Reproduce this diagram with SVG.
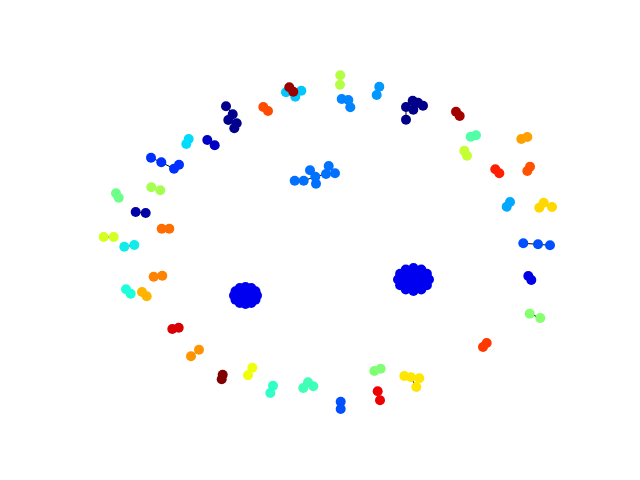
<svg xmlns="http://www.w3.org/2000/svg" width="640" height="480" viewBox="0 0 640 480">
<style>
.e{stroke:#000;stroke-width:1;fill:none}
circle{stroke:none}
</style>
<rect width="640" height="480" fill="#fff"/>
<g id="edges">
<path class="e" d="M226,106.3L232.7,114.3L228.3,120L236.7,123.3L234.3,128.3"/>
<path class="e" d="M151,157.7L161.3,162.3L174,168.7L179,164.7"/>
<path class="e" d="M294.7,180.7L303.7,180.7L315.3,176.7L310,170.3M315.3,176.7L316,183.7M315.3,176.7L326,174L328.7,166M326,174L335,173.3"/>
<path class="e" d="M341.7,99L348.3,100L350.3,107.3"/>
<path class="e" d="M406,107L412.7,100.7L418,102.7L423,105.7M406,107L413.3,109.7M406,107L406,119.7"/>
<path class="e" d="M543.7,202.7L539.3,207.7M543.7,202.7L552,207"/>
<path class="e" d="M523.3,243.3L538,244.3L550,245.3"/>
<path class="e" d="M404.3,376L411,377.3L419.3,378.3M411,377.3L416.3,387"/>
<path class="e" d="M303.3,388L308,382.3L313.3,386.3"/>
<path class="e" d="M286,92.3L295.3,96.7L301.3,90.7"/>
<path class="e" d="M529.7,313.7L540.3,318M103.7,237L113.7,237M124.3,246.7L134.3,245M191,356.3L199,349.7M135.7,212L145.7,213"/>
<path class="e" d="M241,296L243,297M250,297L252,298M408,281L410,281M418,280L418,283"/>
</g>
<g id="blob-left" fill="#0000f0">
<circle id="bl0" cx="257" cy="295.5" r="5"/><circle id="bl1" cx="255.5" cy="299.8" r="5"/><circle id="bl2" cx="251.3" cy="302.9" r="5"/><circle id="bl3" cx="245.5" cy="304" r="5"/><circle id="bl4" cx="239.8" cy="302.9" r="5"/><circle id="bl5" cx="235.5" cy="299.8" r="5"/><circle id="bl6" cx="234" cy="295.5" r="5"/><circle id="bl7" cx="235.5" cy="291.3" r="5"/><circle id="bl8" cx="239.8" cy="288.1" r="5"/><circle id="bl9" cx="245.5" cy="287" r="5"/><circle id="bl10" cx="251.3" cy="288.1" r="5"/><circle id="bl11" cx="255.5" cy="291.3" r="5"/>
<circle id="bl12" cx="251" cy="295.5" r="5"/><circle id="bl13" cx="248.3" cy="299" r="5"/><circle id="bl14" cx="242.8" cy="299" r="5"/><circle id="bl15" cx="240" cy="295.5" r="5"/><circle id="bl16" cx="242.8" cy="292" r="5"/><circle id="bl17" cx="248.3" cy="292" r="5"/><circle id="bl18" cx="245.5" cy="295.5" r="5"/>
</g>
<g id="blob-right" fill="#0000f0">
<circle id="br0" cx="429" cy="279.5" r="5"/><circle id="br1" cx="426.9" cy="285.3" r="5"/><circle id="br2" cx="421.3" cy="289.5" r="5"/><circle id="br3" cx="413.5" cy="291" r="5"/><circle id="br4" cx="405.8" cy="289.5" r="5"/><circle id="br5" cx="400.1" cy="285.3" r="5"/><circle id="br6" cx="398" cy="279.5" r="5"/><circle id="br7" cx="400.1" cy="273.8" r="5"/><circle id="br8" cx="405.8" cy="269.5" r="5"/><circle id="br9" cx="413.5" cy="268" r="5"/><circle id="br10" cx="421.3" cy="269.5" r="5"/><circle id="br11" cx="426.9" cy="273.8" r="5"/>
<circle id="br12" cx="421.5" cy="279.5" r="5"/><circle id="br13" cx="417.5" cy="284.7" r="5"/><circle id="br14" cx="409.5" cy="284.7" r="5"/><circle id="br15" cx="405.5" cy="279.5" r="5"/><circle id="br16" cx="409.5" cy="274.3" r="5"/><circle id="br17" cx="417.5" cy="274.3" r="5"/><circle id="br18" cx="413.5" cy="279.5" r="5"/>
</g>
<g id="c1" fill="#00c8ff"><circle id="n1a" cx="286" cy="92.3" r="5"/><circle id="n1b" cx="295.3" cy="96.7" r="5"/><circle id="n1c" cx="301.3" cy="90.7" r="5"/></g>
<g id="c2" fill="#9a0000"><circle id="n2a" cx="289.3" cy="87.3" r="5"/><circle id="n2b" cx="293.3" cy="91.7" r="5"/></g>
<g id="c3" fill="#ff4a00"><circle id="n3a" cx="263.3" cy="107" r="5"/><circle id="n3b" cx="268" cy="111" r="5"/></g>
<g id="c4" fill="#00008c"><circle id="n4a" cx="226" cy="106.3" r="5"/><circle id="n4b" cx="232.7" cy="114.3" r="5"/><circle id="n4c" cx="228.3" cy="120" r="5"/><circle id="n4d" cx="236.7" cy="123.3" r="5"/><circle id="n4e" cx="234.3" cy="128.3" r="5"/></g>
<g id="c5" fill="#00dcfe"><circle id="n5a" cx="188.7" cy="139" r="5"/><circle id="n5b" cx="186.3" cy="144" r="5"/></g>
<g id="c6" fill="#0000c4"><circle id="n6a" cx="207.3" cy="140" r="5"/><circle id="n6b" cx="214.7" cy="145.3" r="5"/></g>
<g id="c7" fill="#0030ff"><circle id="n7a" cx="151" cy="157.7" r="5"/><circle id="n7b" cx="161.3" cy="162.3" r="5"/><circle id="n7c" cx="174" cy="168.7" r="5"/><circle id="n7d" cx="179" cy="164.7" r="5"/></g>
<g id="c8" fill="#6cff8a"><circle id="n8a" cx="116" cy="193.3" r="5"/><circle id="n8b" cx="118.7" cy="197.7" r="5"/></g>
<g id="c9" fill="#a6ff50"><circle id="n9a" cx="151.3" cy="187.3" r="5"/><circle id="n9b" cx="160.3" cy="190.3" r="5"/></g>
<g id="c10" fill="#0000a4"><circle id="n10a" cx="135.7" cy="212" r="5"/><circle id="n10b" cx="145.7" cy="213" r="5"/></g>
<g id="c11" fill="#ff6c00"><circle id="n11a" cx="161.7" cy="228.7" r="5"/><circle id="n11b" cx="169.3" cy="228.7" r="5"/></g>
<g id="c12" fill="#d4ff22"><circle id="n12a" cx="103.7" cy="237" r="5"/><circle id="n12b" cx="113.7" cy="237" r="5"/></g>
<g id="c13" fill="#10ecea"><circle id="n13a" cx="124.3" cy="246.7" r="5"/><circle id="n13b" cx="134.3" cy="245" r="5"/></g>
<g id="c14" fill="#0070ff"><circle id="n14a" cx="294.7" cy="180.7" r="5"/><circle id="n14b" cx="303.7" cy="180.7" r="5"/><circle id="n14c" cx="310" cy="170.3" r="5"/><circle id="n14d" cx="315.3" cy="176.7" r="5"/><circle id="n14e" cx="316" cy="183.7" r="5"/><circle id="n14f" cx="326" cy="174" r="5"/><circle id="n14g" cx="328.7" cy="166" r="5"/><circle id="n14h" cx="335" cy="173.3" r="5"/></g>
<g id="c15" fill="#b4ff43"><circle id="n15a" cx="340.3" cy="75.3" r="5"/><circle id="n15b" cx="340" cy="84.7" r="5"/></g>
<g id="c16" fill="#0098ff"><circle id="n16a" cx="379.3" cy="86.7" r="5"/><circle id="n16b" cx="376.7" cy="95" r="5"/></g>
<g id="c17" fill="#0084ff"><circle id="n17a" cx="341.7" cy="99" r="5"/><circle id="n17b" cx="348.3" cy="100" r="5"/><circle id="n17c" cx="350.3" cy="107.3" r="5"/></g>
<g id="c18" fill="#000088"><circle id="n18a" cx="406" cy="107" r="5"/><circle id="n18b" cx="412.7" cy="100.7" r="5"/><circle id="n18c" cx="413.3" cy="109.7" r="5"/><circle id="n18d" cx="418" cy="102.7" r="5"/><circle id="n18e" cx="423" cy="105.7" r="5"/><circle id="n18f" cx="406" cy="119.7" r="5"/></g>
<g id="c19" fill="#a40000"><circle id="n19a" cx="456" cy="111.7" r="5"/><circle id="n19b" cx="459.7" cy="116" r="5"/></g>
<g id="c20" fill="#50ffa6"><circle id="n20a" cx="470.7" cy="136.7" r="5"/><circle id="n20b" cx="476" cy="135.3" r="5"/></g>
<g id="c21" fill="#c4ff33"><circle id="n21a" cx="464.3" cy="150.7" r="5"/><circle id="n21b" cx="467" cy="155.7" r="5"/></g>
<g id="c22" fill="#ffa000"><circle id="n22a" cx="521.3" cy="139" r="5"/><circle id="n22b" cx="527.3" cy="137" r="5"/></g>
<g id="c23" fill="#ff1e00"><circle id="n23a" cx="495.3" cy="169.3" r="5"/><circle id="n23b" cx="499.3" cy="173.3" r="5"/></g>
<g id="c24" fill="#ff5200"><circle id="n24a" cx="530" cy="166.7" r="5"/><circle id="n24b" cx="527.3" cy="171" r="5"/></g>
<g id="c25" fill="#00a8ff"><circle id="n25a" cx="510" cy="202" r="5"/><circle id="n25b" cx="506.7" cy="206.7" r="5"/></g>
<g id="c26" fill="#ffd800"><circle id="n26a" cx="543.7" cy="202.7" r="5"/><circle id="n26b" cx="539.3" cy="207.7" r="5"/><circle id="n26c" cx="552" cy="207" r="5"/></g>
<g id="c27" fill="#0050ff"><circle id="n27a" cx="523.3" cy="243.3" r="5"/><circle id="n27b" cx="538" cy="244.3" r="5"/><circle id="n27c" cx="550" cy="245.3" r="5"/></g>
<g id="c28" fill="#ff8200"><circle id="n28a" cx="153.7" cy="276.7" r="5"/><circle id="n28b" cx="162.3" cy="275.7" r="5"/></g>
<g id="c29" fill="#1cffda"><circle id="n29a" cx="126" cy="289.3" r="5"/><circle id="n29b" cx="130.7" cy="293.7" r="5"/></g>
<g id="c30" fill="#ffb400"><circle id="n30a" cx="142" cy="292" r="5"/><circle id="n30b" cx="146.7" cy="296.3" r="5"/></g>
<g id="c31" fill="#d80000"><circle id="n31a" cx="172.3" cy="329" r="5"/><circle id="n31b" cx="178.7" cy="327.7" r="5"/></g>
<g id="c32" fill="#ff9400"><circle id="n32a" cx="191" cy="356.3" r="5"/><circle id="n32b" cx="199" cy="349.7" r="5"/></g>
<g id="c33" fill="#800000"><circle id="n33a" cx="222.7" cy="374.7" r="5"/><circle id="n33b" cx="221.7" cy="379.3" r="5"/></g>
<g id="c34" fill="#eeff09"><circle id="n34a" cx="252.3" cy="367.7" r="5"/><circle id="n34b" cx="248" cy="375.3" r="5"/></g>
<g id="c35" fill="#30ffc6"><circle id="n35a" cx="273" cy="385.7" r="5"/><circle id="n35b" cx="270.3" cy="393" r="5"/></g>
<g id="c36" fill="#40ffb6"><circle id="n36a" cx="303.3" cy="388" r="5"/><circle id="n36b" cx="308" cy="382.3" r="5"/><circle id="n36c" cx="313.3" cy="386.3" r="5"/></g>
<g id="c37" fill="#0000e8"><circle id="n37a" cx="528.3" cy="276" r="5"/><circle id="n37b" cx="531.3" cy="280" r="5"/></g>
<g id="c38" fill="#86ff70"><circle id="n38a" cx="529.7" cy="313.7" r="5"/><circle id="n38b" cx="540.3" cy="318" r="5"/></g>
<g id="c39" fill="#ff3800"><circle id="n39a" cx="483" cy="347" r="5"/><circle id="n39b" cx="486.7" cy="343" r="5"/></g>
<g id="c40" fill="#80ff76"><circle id="n40a" cx="374.3" cy="371" r="5"/><circle id="n40b" cx="380.7" cy="368.7" r="5"/></g>
<g id="c41" fill="#ffe600"><circle id="n41a" cx="404.3" cy="376" r="5"/><circle id="n41b" cx="411" cy="377.3" r="5"/><circle id="n41c" cx="419.3" cy="378.3" r="5"/><circle id="n41d" cx="416.3" cy="387" r="5"/></g>
<g id="c42" fill="#ee0000"><circle id="n42a" cx="377.7" cy="391.3" r="5"/><circle id="n42b" cx="380" cy="400.3" r="5"/></g>
<g id="c43" fill="#0050ff"><circle id="n43a" cx="340.7" cy="401.7" r="5"/><circle id="n43b" cx="340.7" cy="409" r="5"/></g>
</svg>
